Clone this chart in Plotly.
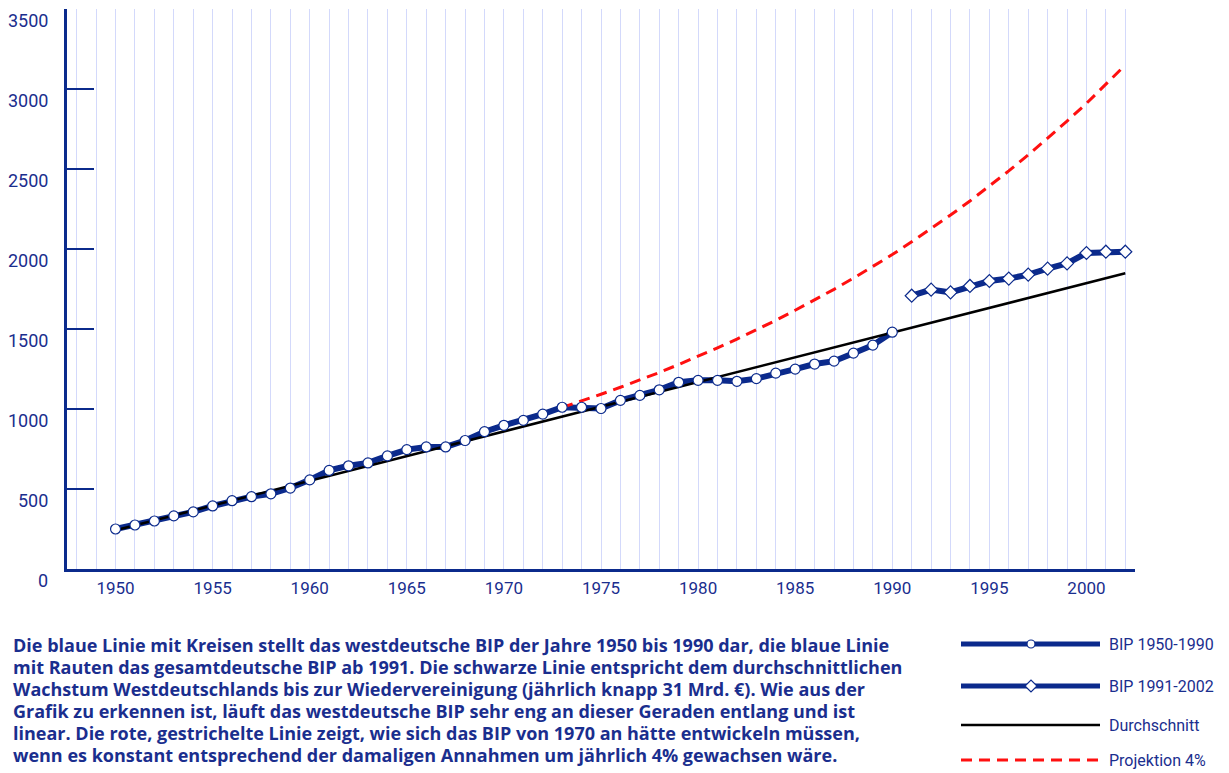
import plotly.graph_objects as go

# ---------------- data ----------------
years_west = list(range(1950, 1991))
bip_west = [250, 275, 300, 332, 357, 394, 427, 452, 470, 506,
            557, 616, 645, 663, 707, 746, 763, 763, 803, 858,
            898, 929, 968, 1011, 1011, 1003, 1054, 1085, 1120, 1167,
            1179, 1179, 1173, 1190, 1224, 1249, 1281, 1299, 1349, 1399,
            1480]

years_gesamt = list(range(1991, 2003))
bip_gesamt = [1708, 1746, 1729, 1769, 1800, 1815, 1840, 1877, 1910, 1975, 1983, 1983]

years_avg = [1950, 2002]
bip_avg = [242, 1848]

years_proj = list(range(1973, 2003))
bip_proj = [1010, 1050, 1092, 1136, 1181, 1228, 1278, 1329, 1382, 1437,
            1495, 1554, 1617, 1681, 1748, 1818, 1891, 1965, 2045, 2127,
            2212, 2300, 2392, 2488, 2588, 2691, 2799, 2910, 3027, 3150]

x_tick_vals = [1950, 1955, 1960, 1965, 1970, 1975, 1980, 1985, 1990, 1995, 2000]
x_tick_text = ["1950", "1955", "1960", "1965", "1970", "1975", "1980", "1985", "1990", "1995", "2000"]
y_tick_vals = [0, 500, 1000, 1500, 2000, 2500, 3000, 3500]
y_tick_text = ["0", "500", "1000", "1500", "2000", "2500", "3000", "3500"]

legend_labels = ["BIP 1950-1990", "BIP 1991-2002", "Durchschnitt", "Projektion 4%"]

caption_lines = [
    "Die blaue Linie mit Kreisen stellt das westdeutsche BIP der Jahre 1950 bis 1990 dar, die blaue Linie",
    "mit Rauten das gesamtdeutsche BIP ab 1991. Die schwarze Linie entspricht dem durchschnittlichen",
    "Wachstum Westdeutschlands bis zur Wiedervereinigung (jährlich knapp 31 Mrd. €). Wie aus der",
    "Grafik zu erkennen ist, läuft das westdeutsche BIP sehr eng an dieser Geraden entlang und ist",
    "linear. Die rote, gestrichelte Linie zeigt, wie sich das BIP von 1970 an hätte entwickeln müssen,",
    "wenn es konstant entsprechend der damaligen Annahmen um jährlich 4% gewachsen wäre.",
]

# ---------------- style ----------------
NAVY = "#0b2a8c"
TEXT = "#1a2e8e"
GRID = "#d3d9fb"
TICKFONT = "Roboto, Liberation Sans, sans-serif"
OFF = 8  # page body margin
W, H = 1229 - OFF, 773 - OFF
ML, MR, MT, MB = 67 - OFF, 94, 9 - OFF, 204
PW = W - ML - MR
PH = H - MT - MB


def px(xp):
    return (xp - OFF - ML) / PW


def py(yp):
    return (H - MB - (yp - OFF)) / PH


fig = go.Figure()

# lines first
fig.add_trace(go.Scatter(x=years_west, y=bip_west, mode="lines",
                         line=dict(color=NAVY, width=6), showlegend=False, hoverinfo="skip"))
fig.add_trace(go.Scatter(x=years_gesamt, y=bip_gesamt, mode="lines",
                         line=dict(color=NAVY, width=6), showlegend=False, hoverinfo="skip"))
fig.add_trace(go.Scatter(x=years_avg, y=bip_avg, mode="lines",
                         line=dict(color="black", width=2.5), showlegend=False))
fig.add_trace(go.Scatter(x=years_proj, y=bip_proj, mode="lines",
                         line=dict(color="#ff1010", width=3, dash="11px,7px"), showlegend=False))
# markers on top
fig.add_trace(go.Scatter(x=years_west, y=bip_west, mode="markers",
                         marker=dict(symbol="circle", size=10, color="white",
                                     line=dict(color=NAVY, width=1.2)), showlegend=False))
fig.add_trace(go.Scatter(x=years_gesamt, y=bip_gesamt, mode="markers",
                         marker=dict(symbol="diamond", size=10, color="white",
                                     line=dict(color=NAVY, width=1.2)), showlegend=False))

annotations = []
# y tick labels (offset below tick, as in reference)
for v, t in zip(y_tick_vals, y_tick_text):
    annotations.append(dict(xref="paper", yref="y", x=0, y=v, xanchor="right", yanchor="middle",
                            xshift=-17, yshift=-11, text=t, showarrow=False,
                            font=dict(family=TICKFONT, size=18, color=TEXT)))

# caption
for i, line in enumerate(caption_lines):
    annotations.append(dict(xref="paper", yref="paper", x=px(11), y=py(645 + 22 * i),
                            xanchor="left", yanchor="middle", text=line, showarrow=False,
                            font=dict(family="Open Sans", size=18, color=TEXT, weight="bold")))

# custom legend
shapes = []
leg_y = [644, 686, 725, 760]
lx0, lx1, lmid = 961, 1100, 1031
shapes.append(dict(type="line", xref="paper", yref="paper", x0=px(lx0), x1=px(lx1),
                   y0=py(leg_y[0]), y1=py(leg_y[0]), line=dict(color=NAVY, width=5)))
shapes.append(dict(type="line", xref="paper", yref="paper", x0=px(lx0), x1=px(lx1),
                   y0=py(leg_y[1]), y1=py(leg_y[1]), line=dict(color=NAVY, width=5)))
shapes.append(dict(type="line", xref="paper", yref="paper", x0=px(lx0), x1=px(lx1),
                   y0=py(leg_y[2]), y1=py(leg_y[2]), line=dict(color="black", width=2.5)))
shapes.append(dict(type="line", xref="paper", yref="paper", x0=px(lx0), x1=px(lx1),
                   y0=py(leg_y[3]), y1=py(leg_y[3]), line=dict(color="#ff1010", width=3, dash="11px,7px")))
shapes.append(dict(type="circle", xref="paper", yref="paper", xsizemode="pixel", ysizemode="pixel",
                   xanchor=px(lmid), yanchor=py(leg_y[0]), x0=-4, x1=4, y0=-4, y1=4,
                   fillcolor="white", line=dict(color=NAVY, width=1.2)))
shapes.append(dict(type="path", xref="paper", yref="paper", xsizemode="pixel", ysizemode="pixel",
                   xanchor=px(lmid), yanchor=py(leg_y[1]), path="M-6,0 L0,-6 L6,0 L0,6 Z",
                   fillcolor="white", line=dict(color=NAVY, width=1.2)))
for lab, yy in zip(legend_labels, leg_y):
    annotations.append(dict(xref="paper", yref="paper", x=px(1107), y=py(yy), xanchor="left",
                            yanchor="middle", text=lab, showarrow=False,
                            font=dict(family=TICKFONT, size=16, color=TEXT)))

fig.update_layout(
    width=W, height=H,
    margin=dict(l=ML, r=MR, t=MT, b=MB),
    paper_bgcolor="white", plot_bgcolor="white",
    showlegend=False,
    annotations=annotations,
    shapes=shapes,
    xaxis=dict(range=[1947.5, 2002.5], tickvals=x_tick_vals, ticktext=x_tick_text,
               showgrid=True, gridcolor=GRID, gridwidth=1,
               minor=dict(dtick=1, tick0=1948, showgrid=True, gridcolor=GRID, gridwidth=1, ticks=""),
               ticks="", showline=True, linecolor=NAVY, linewidth=3, zeroline=False,
               ticklabelstandoff=2,
               tickfont=dict(family=TICKFONT, size=17, color=TEXT)),
    yaxis=dict(range=[0, 3500], tickvals=y_tick_vals, showticklabels=False,
               showgrid=False, zeroline=False, showline=True, linecolor=NAVY, linewidth=3,
               ticks="inside", ticklen=27, tickwidth=2, tickcolor=NAVY),
)

fig.write_html("out.html")
